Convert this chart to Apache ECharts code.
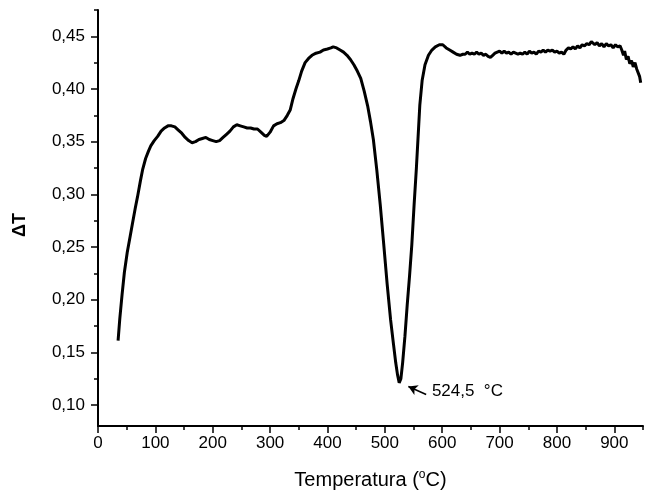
<!DOCTYPE html>
<html>
<head>
<meta charset="utf-8">
<script src="https://cdn.jsdelivr.net/npm/echarts@6/dist/echarts.min.js"></script>
<style>html,body{margin:0;padding:0;background:#fff}#c{width:646px;height:492px}</style>
</head>
<body>
<div id="c"></div>
<script>
const temps = [35,38,42,46,51,56,60,65,69,74,78,83,88,92,98,104,110,116,122,128,134,140,146,152,158,164,170,176,182,188,194,200,206,212,218,224,230,236,242,248,254,260,266,272,278,284,290,294,300,306,312,318,324,330,335,340,345,350,355,361,367,373,380,387,393,400,406,410,416,422,428,434,440,446,452,458,464,470,475,480,486,492,498,504,510,515,519,522,525,528,531,535,539,543,547,551,555,558,561,565,570,576,582,588,595,601,607,613,619,625,631,636,640,644,648,652,656,660,664,668,672,676,680,684,688,692,696,700,704,708,712,716,720,724,728,732,736,740,744,748,752,756,760,764,768,772,776,780,784,788,792,796,800,804,808,812,816,820,824,828,832,836,840,844,848,852,856,860,863,866,870,874,878,882,886,890,894,898,902,906,910,913,916,918,921,924,927,930,933,936,939,942,944,946];
const deltaT = [0.161,0.182,0.205,0.226,0.245,0.260,0.272,0.287,0.298,0.313,0.324,0.334,0.341,0.346,0.351,0.355,0.360,0.363,0.365,0.365,0.364,0.361,0.358,0.354,0.351,0.349,0.350,0.352,0.353,0.354,0.352,0.351,0.350,0.351,0.354,0.357,0.360,0.364,0.366,0.365,0.364,0.363,0.363,0.362,0.362,0.359,0.356,0.355,0.359,0.365,0.367,0.368,0.370,0.375,0.380,0.391,0.400,0.408,0.417,0.425,0.429,0.432,0.434,0.435,0.437,0.438,0.439,0.440,0.439,0.437,0.435,0.432,0.428,0.423,0.417,0.410,0.398,0.384,0.369,0.352,0.323,0.290,0.253,0.215,0.181,0.158,0.140,0.129,0.121,0.125,0.140,0.165,0.195,0.222,0.252,0.290,0.325,0.355,0.385,0.408,0.423,0.432,0.437,0.440,0.442,0.442,0.439,0.437,0.435,0.433,0.432,0.433,0.433,0.435,0.433,0.434,0.433,0.435,0.433,0.434,0.432,0.433,0.431,0.430,0.432,0.434,0.435,0.436,0.434,0.436,0.434,0.435,0.433,0.435,0.434,0.433,0.434,0.433,0.435,0.433,0.436,0.434,0.435,0.433,0.436,0.435,0.437,0.435,0.437,0.436,0.437,0.435,0.436,0.434,0.435,0.433,0.437,0.439,0.438,0.440,0.438,0.441,0.439,0.442,0.441,0.443,0.442,0.445,0.446,0.442,0.444,0.441,0.443,0.440,0.443,0.441,0.442,0.439,0.442,0.440,0.441,0.437,0.432,0.436,0.428,0.431,0.424,0.427,0.421,0.425,0.419,0.420,0.412,0.406];

const xMajorTicks = [0,100,200,300,400,500,600,700,800,900];
const xMinorTicks = [50,150,250,350,450,550,650,750,850,950];
const yMajorTicks = [0.10,0.15,0.20,0.25,0.30,0.35,0.40,0.45];
const yMinorTicks = [0.125,0.175,0.225,0.275,0.325,0.375,0.425,0.475];

const peakLabel = '524,5  °C';
const arrowFrom = [572, 0.1099];
const arrowTo = [541, 0.1175];
const labelAt = [582, 0.1127];

const font = "'Liberation Sans', Arial, sans-serif";
const chart = echarts.init(document.getElementById('c'), null, {renderer:'canvas'});
const axisLine = {show:true, lineStyle:{color:'#000', width:2}};
chart.setOption({
  animation:false,
  backgroundColor:'#fff',
  grid:{left:98, right:3, top:10, bottom:66, containLabel:false, outerBoundsMode:'none'},
  xAxis:[{
    type:'value', min:0, max:950, position:'bottom',
    axisLine:axisLine,
    axisTick:{show:true, customValues:xMajorTicks, length:7, lineStyle:{color:'#000', width:1.5}},
    axisLabel:{show:true, customValues:xMajorTicks, margin:9, color:'#000', fontSize:17, fontFamily:font},
    splitLine:{show:false},
    name:'Temperatura ({s|o}C)', nameLocation:'middle', nameGap:43,
    nameTextStyle:{color:'#000', fontSize:20, fontFamily:font, rich:{s:{fontSize:12, fontFamily:font, color:'#000', padding:[0,0,10,0]}}}
  },{
    type:'value', min:0, max:950, position:'bottom',
    axisLine:{show:false},
    axisTick:{show:true, customValues:xMinorTicks, length:4, lineStyle:{color:'#000', width:1.5}},
    axisLabel:{show:false}, splitLine:{show:false}
  }],
  yAxis:[{
    type:'value', min:0.08, max:0.475, position:'left',
    axisLine:axisLine,
    axisTick:{show:true, customValues:yMajorTicks, length:7, lineStyle:{color:'#000', width:1.5}},
    axisLabel:{show:true, customValues:yMajorTicks, margin:13, color:'#000', fontSize:17, fontFamily:font,
      formatter:v => v.toFixed(2).replace('.', ',')},
    splitLine:{show:false},
    name:'ΔT', nameLocation:'middle', nameRotate:90, nameGap:69,
    nameTextStyle:{color:'#000', fontSize:18, fontWeight:'bold', fontFamily:font, padding:[0,14,0,0]}
  },{
    type:'value', min:0.08, max:0.475, position:'left',
    axisLine:{show:false},
    axisTick:{show:true, customValues:yMinorTicks, length:4, lineStyle:{color:'#000', width:1.5}},
    axisLabel:{show:false}, splitLine:{show:false}
  }],
  series:[{
    type:'line', xAxisIndex:0, yAxisIndex:0,
    data: temps.map((t,i)=>[t, deltaT[i]]),
    showSymbol:false, symbol:'none',
    lineStyle:{color:'#000', width:3},
    markLine:{
      silent:true, symbol:['none','arrow'], symbolSize:[8,9],
      lineStyle:{color:'#000', width:1.5, type:'solid'},
      label:{show:false},
      data:[[{coord:arrowFrom},{coord:arrowTo}]]
    },
    markPoint:{
      silent:true, symbol:'circle', symbolSize:0,
      label:{show:true, position:'right', distance:0, formatter:peakLabel, color:'#000', fontSize:17, fontFamily:font},
      data:[{coord:labelAt}]
    }
  }]
});
</script>
</body>
</html>
